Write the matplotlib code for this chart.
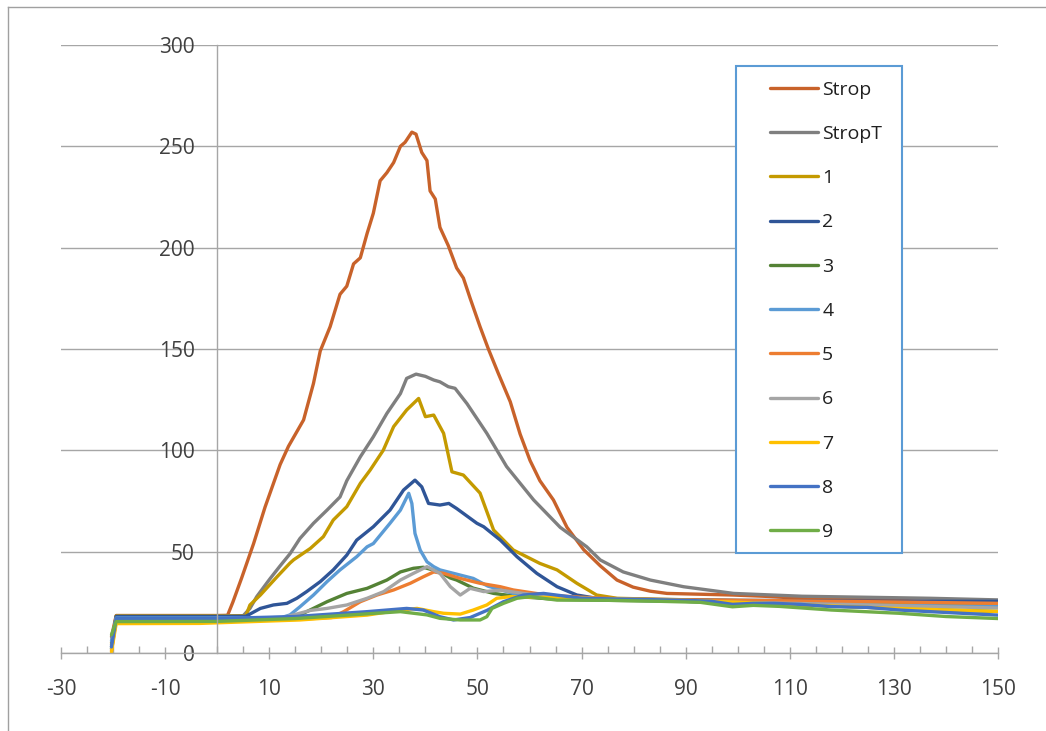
import matplotlib
matplotlib.use("Agg")
import matplotlib.pyplot as plt
from matplotlib.lines import Line2D
from matplotlib.patches import Rectangle
from matplotlib.ticker import MultipleLocator

plt.rcParams["font.family"] = ["Open Sans", "DejaVu Sans"]
plt.rcParams["axes.unicode_minus"] = False

# ---- data ------------------------------------------------------------------
strop_x = [-20.3, -19.4, 0, 2.0, 3.0, 4.7, 7.0, 9.2, 12.1, 13.7, 16.6, 18.5, 19.8, 21.7,
           23.6, 24.9, 26.2, 27.5, 28.8, 30.0, 31.3, 32.6, 33.9, 35.2, 36.1, 37.4, 38.2,
           39.3, 40.3, 40.9, 41.9, 42.8, 44.4, 46.0, 47.3, 48.6, 50.5, 52.1, 54.0, 56.3,
           58.2, 60.1, 62.0, 64.6, 67.2, 70.4, 73.6, 76.8, 79.9, 83.2, 86.4, 92.8, 99.1,
           105, 112, 120, 130, 140, 150]
strop_y = [8, 18.5, 18.5, 18.6, 25, 37, 54, 72, 93, 102, 115, 133, 149, 161,
           177, 181, 192, 195, 207, 217, 233, 237, 242, 250, 252, 257, 256,
           247, 243, 228, 224, 210, 201, 190, 185, 175, 161, 150, 138, 124,
           108, 95, 85, 75.5, 62, 51, 43, 36, 32.5, 30.5, 29.4, 29, 28.6,
           28, 27, 26.5, 26, 25.3, 24.5]

stropt_x = [-20.3, -19.4, 0, 5, 6.3, 7.6, 9.5, 10.2, 12.1, 14, 15.9, 18.5, 21.1, 23.6,
            24.9, 27.5, 30, 32.6, 35.2, 36.4, 38.2, 40, 41.6, 42.8, 44.4, 45.7, 48,
            51.8, 55.6, 60.8, 65.9, 71, 73.6, 78, 83.2, 89.6, 99.2, 112.4, 124.8, 137, 150]
stropt_y = [4, 18.3, 18.3, 18.4, 22, 27.8, 34.4, 36.8, 43, 49, 56.5, 64, 70.5, 77,
            85, 96.8, 106.7, 118.2, 128, 135.5, 137.6, 136.5, 134.7, 133.8, 131.4, 130.6, 123,
            108.4, 92, 75.5, 62, 52.4, 45.9, 40, 36, 32.7, 29.4, 28, 27.5, 27, 26.2]

s1_x = [-20.3, -19.4, 0, 5.5, 6.3, 8.3, 11.5, 14.0, 14.7, 17.9, 20.4, 22.3, 24.9, 27.5,
        29.4, 31.9, 33.9, 36.4, 38.7, 40.0, 41.6, 43.5, 45.1, 47.3, 50.5, 53.1, 56.9,
        62, 65.3, 69.1, 72.9, 76.8, 85, 95, 110, 130, 150]
s1_y = [5, 18.2, 18.2, 18.3, 23.7, 28.6, 37.6, 44.4, 46, 51.6, 57.4, 65.6, 72.2, 83.7,
        90.3, 100, 111.7, 119.9, 125.6, 116.6, 117.4, 108.4, 89.4, 87.8, 78.9, 60.7, 50.8,
        44.2, 41, 34.4, 28.6, 27, 26.5, 26, 25.5, 24.5, 23.5]

s2_x = [-20.3, -19.4, 0, 5.5, 8.3, 10.8, 13.4, 15.3, 17.2, 19.8, 22.3, 24.9, 26.8, 30,
        33.2, 35.8, 38, 39.3, 40.6, 42.8, 44.5, 46, 49.9, 51.2, 54.4, 57.6, 61.4, 65.3,
        69.1, 72.9, 80, 90, 100, 115, 130, 150]
s2_y = [3, 18, 18, 18.1, 22, 23.7, 24.5, 27, 30.3, 35.2, 41, 48.3, 55.7, 62.3,
        70.5, 80.4, 85.3, 82, 73.8, 73, 73.8, 71.3, 64, 62.3, 55.7, 47.5, 39.3, 32.7,
        28.6, 27, 26.5, 26.3, 26, 25.8, 25.5, 25.5]

s3_x = [-20.3, -19.4, 0, 10, 15, 17.2, 21.1, 24.9, 28.8, 32.6, 35.2, 37.7, 39.6, 40.3,
        42.8, 44.8, 46, 49.2, 53.1, 58, 65, 75, 90, 100, 115, 130, 150]
s3_y = [2, 16.3, 16.3, 16.5, 17.5, 20.4, 25.3, 29.4, 31.9, 36, 40, 41.8, 42.3, 41.8,
        40, 37, 36, 32, 29.4, 27.8, 26.5, 26, 25.5, 24.5, 23.5, 22, 20.5]

s4_x = [-20.3, -19.4, 0, 10, 12.5, 14, 15.9, 18.5, 21.1, 23.6, 26.8, 28.8, 30, 33.2,
        35.2, 36.8, 37.4, 38, 39, 40.3, 41.6, 42.8, 45.4, 49.2, 52, 56.9, 62, 70, 80,
        90, 100, 115, 130, 150]
s4_y = [6, 17.3, 17.3, 17.4, 17.6, 18.8, 22.8, 28.6, 35.2, 41, 47.5, 52.4, 54, 64,
        70.5, 78.8, 73.8, 59, 50.8, 45, 42.6, 41, 39.3, 36.8, 33, 29.4, 28, 26.5, 26,
        25.5, 24.5, 24, 23.5, 23]

s5_x = [-20.3, -19.4, 0, 15, 22, 24.3, 27.5, 30.7, 33.9, 37.1, 39.6, 41.6, 43.5, 46.7,
        50.5, 54.4, 56.9, 63.3, 70, 80, 100, 120, 135, 150]
s5_y = [1, 16.5, 16.5, 16.6, 17.5, 20.4, 25.3, 28.6, 31.1, 34.4, 37.6, 40, 39.3, 36.8,
        34.4, 32.7, 31.1, 28.6, 27.5, 26.5, 26, 25.5, 25, 24.5]

s6_x = [-20.3, -19.4, 0, 12, 17.9, 21.1, 24.9, 28.8, 32, 35.2, 37.7, 40.3, 42.8, 44.8,
        46.7, 48.6, 51.2, 54.4, 60, 70, 80, 100, 120, 150]
s6_y = [2, 16.8, 16.8, 17, 21, 22, 23.7, 27, 30.3, 36, 39.3, 42.6, 39.3, 32.7,
        28.6, 31.9, 30.3, 31, 29, 27, 26.5, 25, 24, 22.2]

s7_x = [-20.3, -19.4, -3.3, 15.9, 28.8, 35.2, 38.4, 41.6, 43.5, 46.7, 49.2, 51.8, 53.7,
        56.3, 62, 70, 80, 90, 100, 115, 130, 150]
s7_y = [0.5, 14.5, 14.6, 16.3, 18.7, 21.2, 22, 20.4, 19.6, 19.2, 21.2, 23.7, 27,
        27.8, 27.5, 27, 26.5, 26, 25, 23.5, 22, 20.5]

s8_x = [-20.3, -19.4, 0, 15, 28.8, 36.4, 39.6, 42.8, 45.4, 48.6, 51.8, 55, 58.8, 62.7,
        70, 80, 90, 95, 99, 103, 107, 112, 118, 125, 131, 140, 150]
s8_y = [3, 17, 17, 18, 20.4, 22, 21.2, 17.9, 16.3, 17.5, 21, 25.3, 28.6, 29.4,
        27, 26.5, 26, 25.5, 24, 24.5, 24.5, 24, 22.9, 22.5, 21.2, 20, 18.7]

s9_x = [-20.3, -19.4, 0, 15, 35.2, 40.3, 42.8, 46.7, 50.5, 51.8, 52.8, 55, 57.6, 60.1,
        65.3, 75, 85, 92.8, 97, 99, 103, 108, 118, 131, 140, 150]
s9_y = [9, 15.5, 15.6, 17, 20.4, 18.8, 17.1, 16.3, 16.3, 17.9, 22, 24.5, 27, 27.8,
        26.1, 26, 25.5, 25, 23.5, 22.8, 23.5, 23, 21.2, 19.6, 18, 17]

labels = ["Strop", "StropT", "1", "2", "3", "4", "5", "6", "7", "8", "9"]
colors = ["#C8622A", "#7F7F7F", "#C49A00", "#2F5597", "#548235", "#5B9BD5",
          "#ED7D31", "#A5A5A5", "#FFC000", "#4472C4", "#70AD47"]
series = [(strop_x, strop_y), (stropt_x, stropt_y), (s1_x, s1_y), (s2_x, s2_y),
          (s3_x, s3_y), (s4_x, s4_y), (s5_x, s5_y), (s6_x, s6_y), (s7_x, s7_y),
          (s8_x, s8_y), (s9_x, s9_y)]

# ---- figure ----------------------------------------------------------------
W, H = 1046, 731
fig = plt.figure(figsize=(W / 100, H / 100), dpi=100)
ax = fig.add_axes([61 / W, 78 / H, (998 - 61) / W, (653 - 45) / H])

grid_c = "#A6A6A6"
text_c = "#404040"

handles = []
for (xs, ys), lab, col in zip(series, labels, colors):
    ln, = ax.plot(xs, ys, color=col, lw=2.4, solid_joinstyle="round",
                  solid_capstyle="round", label=lab)
    handles.append(ln)

ax.set_xlim(-30, 150)
ax.set_ylim(0, 300)

ax.spines["top"].set_visible(False)
ax.spines["right"].set_visible(False)
ax.spines["left"].set_position(("data", 0))
for s in ("left", "bottom"):
    ax.spines[s].set_color(grid_c)
    ax.spines[s].set_linewidth(1.0)

ax.yaxis.set_major_locator(MultipleLocator(50))
ax.set_xticks(list(range(-30, 151, 20)))
ax.xaxis.set_minor_locator(MultipleLocator(5))
ax.yaxis.grid(True, color=grid_c, lw=1.0)
ax.set_axisbelow(True)

ax.tick_params(axis="y", length=0, pad=16, labelsize=15, labelcolor=text_c)
ax.tick_params(axis="x", which="major", direction="inout", length=9, width=1.0,
               color=grid_c, pad=14, labelsize=15, labelcolor=text_c)
ax.tick_params(axis="x", which="minor", direction="in", length=5, width=1.0,
               color=grid_c)

# legend box (Excel style, blue border)
box = Rectangle((736 / W, 1 - 553 / H), (902 - 736) / W, (553 - 66) / H,
                transform=fig.transFigure, facecolor="white", edgecolor="#5B9BD5",
                lw=1.5, zorder=10, clip_on=False)
ax.add_patch(box)
leg = ax.legend(handles=handles, loc="upper left", frameon=False, borderpad=0,
                bbox_to_anchor=(760 / W, 1 - 71 / H), bbox_transform=fig.transFigure,
                handlelength=2.5, handletextpad=0.2, labelspacing=1.35,
                fontsize=14, labelcolor="#202020")
leg.set_zorder(11)

# chart area border
fig.add_artist(Line2D([8 / W, 8 / W], [0, 1 - 7 / H], color="#A0A0A0", lw=1.0))
fig.add_artist(Line2D([8 / W, 1], [1 - 7 / H, 1 - 7 / H], color="#A0A0A0", lw=1.0))

fig.savefig("out.png", dpi=100)
